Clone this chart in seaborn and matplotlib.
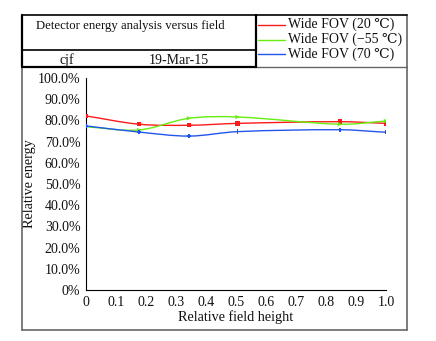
import numpy as np
import pandas as pd
import matplotlib
matplotlib.use("Agg")
import matplotlib.pyplot as plt
from matplotlib.path import Path
from matplotlib.patches import PathPatch
from matplotlib.lines import Line2D
import seaborn as sns

# Relative field height samples
field = [0.0, 0.177, 0.343, 0.505, 0.846, 1.0]
# Relative energy (%) per temperature
energy_20 = [82.1, 78.2, 77.7, 78.6, 79.4, 78.6]
energy_m55 = [77.0, 75.5, 81.0, 81.6, 78.2, 79.7]
energy_70 = [77.4, 74.5, 72.6, 74.7, 75.6, 74.4]

series_names = ["Wide FOV (20 \u2103)", "Wide FOV (\u221255 \u2103)", "Wide FOV (70 \u2103)"]
series_values = [energy_20, energy_m55, energy_70]
colors = ["#ff1a1a", "#66ee11", "#2255ee"]
markers = ["s", ">", "P"]

title_text = "Detector energy analysis versus field"
author_text = "cjf"
date_text = "19-Mar-15"
y_ticks = list(range(0, 101, 10))
y_tick_labels = ["0%"] + [f"{v:.1f}%" for v in y_ticks[1:]]
x_ticks = [i / 10 for i in range(11)]
x_tick_labels = ["0"] + [f"{v:.1f}" for v in x_ticks[1:]]

sns.set_theme(style="white")
serif = ["Liberation Serif", "DejaVu Serif"]
plt.rcParams["font.family"] = serif
txt = "#111111"

W, H = 436, 341
fig = plt.figure(figsize=(W / 100, H / 100), dpi=100)
ax = fig.add_axes([86 / W, (H - 290) / H, 300 / W, 212 / H])

df = pd.DataFrame({
    "field": np.tile(field, 3),
    "energy": np.concatenate(series_values),
    "series": np.repeat(series_names, len(field)),
})

sns.scatterplot(data=df, x="field", y="energy", hue="series", style="series",
                hue_order=series_names, style_order=series_names,
                palette=colors, markers=markers, s=10, linewidth=0,
                legend=False, ax=ax, zorder=3)


def smooth_path(xs, ys):
    """Piecewise cubic Bezier through the points (Hermite tangents)."""
    xs = np.asarray(xs, float)
    ys = np.asarray(ys, float)
    n = len(xs)
    m = np.zeros(n)
    m[0] = (ys[1] - ys[0]) / (xs[1] - xs[0])
    m[-1] = (ys[-1] - ys[-2]) / (xs[-1] - xs[-2])
    for i in range(1, n - 1):
        m[i] = (ys[i + 1] - ys[i - 1]) / (xs[i + 1] - xs[i - 1])
    verts = [(xs[0], ys[0])]
    codes = [Path.MOVETO]
    for i in range(n - 1):
        h = xs[i + 1] - xs[i]
        verts += [(xs[i] + h / 3, ys[i] + m[i] * h / 3),
                  (xs[i + 1] - h / 3, ys[i + 1] - m[i + 1] * h / 3),
                  (xs[i + 1], ys[i + 1])]
        codes += [Path.CURVE4] * 3
    return Path(verts, codes)


for vals, c in zip(series_values, colors):
    ax.add_patch(PathPatch(smooth_path(field, vals), facecolor="none",
                           edgecolor=c, lw=1.0, zorder=2))

ax.set_xlim(0, 1.0)
ax.set_ylim(0, 100)
ax.set_xticks(x_ticks)
ax.set_xticklabels(x_tick_labels)
ax.set_yticks(y_ticks)
ax.set_yticklabels(y_tick_labels)
ax.tick_params(axis="both", direction="in", length=3, width=0.8, color="black",
               labelsize=10, labelcolor=txt, pad=4)
for side in ["top", "right"]:
    ax.spines[side].set_visible(False)
for side in ["left", "bottom"]:
    ax.spines[side].set_color("black")
    ax.spines[side].set_linewidth(0.8)
ax.set_xlabel("Relative field height", fontsize=10.2, labelpad=1, color=txt)
ax.set_ylabel("Relative energy", fontsize=10.2, labelpad=1, color=txt)


# Frame and header table, in pixel coordinates of the figure
def px(x, y):
    return x / W, (H - y) / H


def hline(y, x0, x1, color, lw):
    (a, b), (c, d) = px(x0, y), px(x1, y)
    fig.add_artist(Line2D([a, c], [b, d], color=color, lw=lw, transform=fig.transFigure))


def vline(x, y0, y1, color, lw):
    (a, b), (c, d) = px(x, y0), px(x, y1)
    fig.add_artist(Line2D([a, c], [b, d], color=color, lw=lw, transform=fig.transFigure))


gray = "#666666"
vline(22, 67, 330, gray, 1.2)
vline(407, 15, 330, gray, 1.2)
hline(330, 22, 407, gray, 1.2)
hline(67, 256, 407, gray, 1.0)
hline(15, 22, 407, "black", 1.2)
vline(22, 15, 67, "black", 1.6)
vline(256, 15, 67, "black", 1.6)
hline(50, 22, 256, "black", 1.2)
hline(67, 22, 256, "black", 1.6)

fig.text(*px(36, 26), title_text, fontsize=9.2, ha="left", va="center", color=txt)
fig.text(*px(67, 60), author_text, fontsize=10, ha="center", va="center", color=txt)
fig.text(*px(179, 60), date_text, fontsize=10, ha="center", va="center", color=txt)

for name, c, yy in zip(series_names, colors, [24.5, 39.5, 54]):
    hline(yy, 258, 285, c, 1.0)
    fig.text(*px(288, yy), name, fontsize=10, ha="left", va="center",
             color=txt, family=serif)

fig.savefig("out.png", dpi=100)
